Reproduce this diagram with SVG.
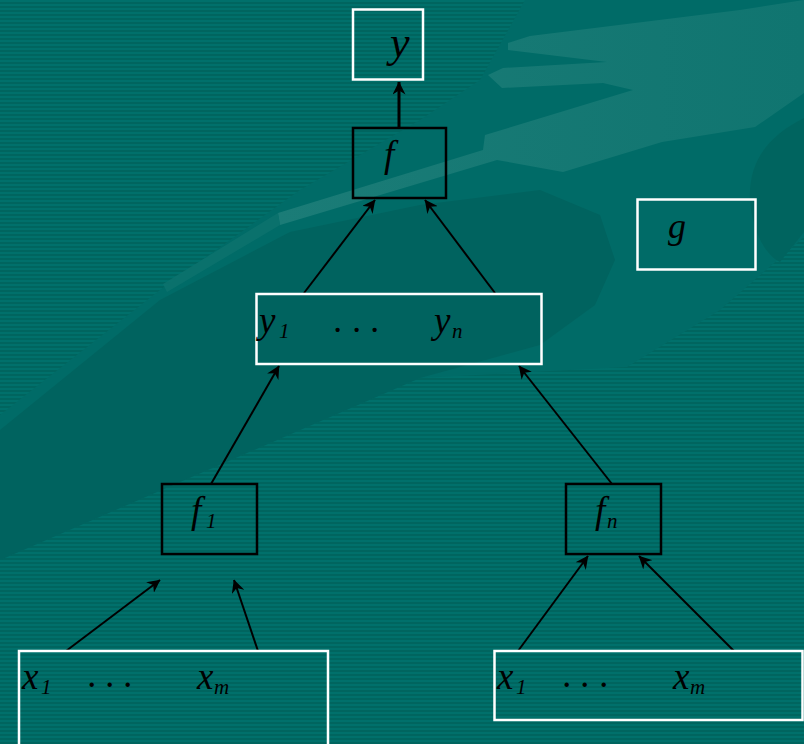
<svg xmlns="http://www.w3.org/2000/svg" width="804" height="744" viewBox="0 0 804 744">
  <defs>
    <!-- fine horizontal banding of the slide background -->
    <pattern id="stripes" width="8" height="4" patternUnits="userSpaceOnUse">
      <rect width="8" height="4" fill="#00655f"/>
      <rect width="8" height="2" fill="#00706b"/>
    </pattern>
    <marker id="arrow" viewBox="0 0 13 13" refX="12.5" refY="6.5" markerWidth="13" markerHeight="13" markerUnits="userSpaceOnUse" orient="auto">
      <path d="M0,0 L13,6.5 L0,13 L4,6.5 z" fill="#000"/>
    </marker>
    <linearGradient id="penGrad" x1="0" y1="0" x2="1" y2="0">
      <stop offset="0" stop-color="#1b7c77"/>
      <stop offset="1" stop-color="#107570"/>
    </linearGradient>
  </defs>
  <style>
    .wbox { fill: none; stroke: #ffffff; stroke-width: 2.5; }
    .bbox { fill: none; stroke: #000000; stroke-width: 2.5; }
    .lab { font-family: "Liberation Serif", "Times New Roman", serif; font-style: italic; fill: #000; }
    .sub { font-family: "Liberation Serif", "Times New Roman", serif; font-style: italic; fill: #000; font-size: 21px; }
    .edge { stroke: #000; stroke-width: 2; fill: none; marker-end: url(#arrow); }
  </style>

  <!-- background -->
  <g id="background">
    <rect width="804" height="744" fill="url(#stripes)"/>
    <!-- smooth diagonal sweep -->
    <polygon fill="#006b67" points="0,415 160,290 300,190 420,120 480,80 525,0 804,0 804,237 720,310 627,367 420,378 300,430 0,560"/>
    <!-- darker lower part of the sweep -->
    <polygon fill="#00635f" points="0,430 160,300 290,232 420,205 540,190 600,215 615,260 595,305 540,345 420,378 300,430 0,560"/>
    <path fill="#00645f" d="M804,118 C770,135 748,160 750,200 C752,230 765,255 780,262 L804,232 Z"/>
    <!-- light pen shape -->
    <polygon fill="url(#penGrad)" points="278,213 483,150 485,135 633,90 603,83 502,88 488,75 503,68 607,62 508,50 508,43 530,36 740,10 804,0 804,93 755,127 662,142 563,172 497,160 280,225"/>
    <polygon fill="#0d736e" opacity="0.8" points="163,284 278,213 280,225 167,292"/>
  </g>

  <!-- connectors -->
  <g id="connectors">
    <line class="edge" x1="399" y1="127" x2="399" y2="82" style="stroke-width:3"/>
    <line class="edge" x1="304" y1="293" x2="375" y2="200"/>
    <line class="edge" x1="495" y1="293" x2="425" y2="200"/>
    <line class="edge" x1="211" y1="484" x2="279" y2="366"/>
    <line class="edge" x1="612" y1="484" x2="519" y2="366"/>
    <line class="edge" x1="66" y1="651" x2="160" y2="580"/>
    <line class="edge" x1="258" y1="651" x2="234" y2="580"/>
    <line class="edge" x1="518" y1="651" x2="588" y2="556"/>
    <line class="edge" x1="734" y1="651" x2="639" y2="556"/>
  </g>

  <g id="node-y">
    <rect class="wbox" x="353" y="9.5" width="70" height="70"/>
    <text class="lab" x="390" y="57" font-size="44">y</text>
  </g>

  <g id="node-f">
    <rect class="bbox" x="353" y="128" width="93" height="70"/>
    <text class="lab" x="384" y="167" font-size="37">f</text>
  </g>

  <g id="node-g">
    <rect class="wbox" x="637.5" y="199.5" width="118" height="70"/>
    <text class="lab" x="668" y="238" font-size="36">g</text>
  </g>

  <g id="node-ys">
    <rect class="wbox" x="256.5" y="294" width="285" height="70"/>
    <text class="lab" x="259" y="333" font-size="37">y</text>
    <text class="sub" x="279" y="338">1</text>
    <text class="lab" x="334 353 371" y="332" font-size="36">...</text>
    <text class="lab" x="434" y="333" font-size="37">y</text>
    <text class="sub" x="452" y="338">n</text>
  </g>

  <g id="node-f1">
    <rect class="bbox" x="162" y="484" width="95" height="70"/>
    <text class="lab" x="191" y="523" font-size="37">f</text>
    <text class="sub" x="206" y="528">1</text>
  </g>

  <g id="node-fn">
    <rect class="bbox" x="566" y="484" width="95" height="70"/>
    <text class="lab" x="595" y="523" font-size="37">f</text>
    <text class="sub" x="607" y="528">n</text>
  </g>

  <g id="node-xs-left">
    <rect class="wbox" x="19" y="651" width="309" height="110"/>
    <text class="lab" x="22" y="689" font-size="37">x</text>
    <text class="sub" x="41" y="694">1</text>
    <text class="lab" x="88 106 124" y="687" font-size="37">...</text>
    <text class="lab" x="197" y="689" font-size="37">x</text>
    <text class="sub" x="214" y="694">m</text>
  </g>

  <g id="node-xs-right">
    <rect class="wbox" x="494.5" y="651" width="308" height="69"/>
    <text class="lab" x="497" y="689" font-size="37">x</text>
    <text class="sub" x="516" y="694">1</text>
    <text class="lab" x="563 581 600" y="687" font-size="37">...</text>
    <text class="lab" x="673" y="689" font-size="37">x</text>
    <text class="sub" x="690" y="694">m</text>
  </g>
</svg>
